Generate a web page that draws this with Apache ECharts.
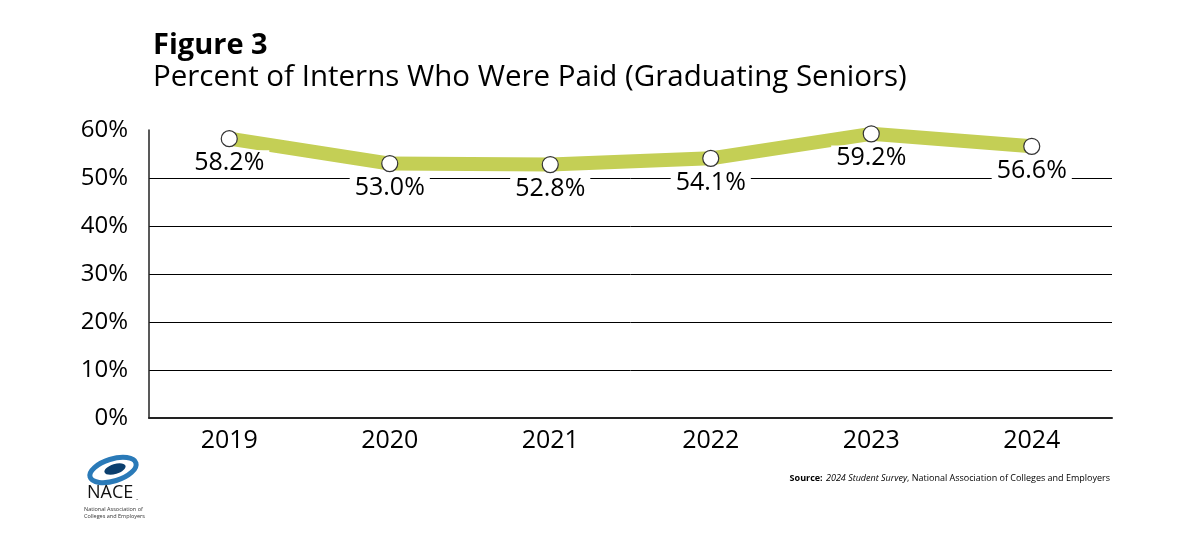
<!DOCTYPE html>
<html><head><meta charset="utf-8">
<script src="https://cdn.jsdelivr.net/npm/echarts@6/dist/echarts.min.js"></script>
<style>html,body{margin:0;padding:0;background:#fff}#c{width:1200px;height:543px}</style>
</head><body><div id="c"></div>
<script>
const years = ['2019','2020','2021','2022','2023','2024'];
const paidPct = [58.2, 53.0, 52.8, 54.1, 59.2, 56.6];
const yTicks = [0, 10, 20, 30, 40, 50, 60];

const font = '"Open Sans", "Noto Sans", sans-serif';
const chart = echarts.init(document.getElementById('c'));
chart.setOption({
  animation: false,
  backgroundColor: '#fff',
  textStyle: { fontFamily: font },
  title: [
    { text: 'Figure 3', left: 148, top: 26, textStyle: { fontFamily: font, fontSize: 29, fontWeight: 'bold', color: '#000' } },
    { text: 'Percent of Interns Who Were Paid (Graduating Seniors)', left: 148, top: 58, textStyle: { fontFamily: font, fontSize: 29.5, fontWeight: 'normal', color: '#000' } }
  ],
  grid: { left: 149, right: 88, top: 130, bottom: 125 },
  xAxis: {
    type: 'category', data: years, boundaryGap: true,
    axisLine: { lineStyle: { color: '#222', width: 2 } },
    axisTick: { show: false },
    axisLabel: { color: '#000', fontSize: 25, margin: 10, fontFamily: font }
  },
  yAxis: {
    type: 'value', min: yTicks[0], max: yTicks[yTicks.length - 1], interval: 10,
    axisLine: { show: true, lineStyle: { color: '#222', width: 1.5 } },
    axisTick: { show: false },
    axisLabel: { color: '#000', fontSize: 24, margin: 21, fontFamily: font, formatter: v => v + '%', verticalAlign: 'middle', padding: [6, 0, 0, 0] },
    splitLine: { show: true, lineStyle: { color: '#000', width: 1 }, showMaxLine: false }
  },
  series: [{
    type: 'line', data: paidPct, z: 5,
    lineStyle: { color: '#c4cf55', width: 14 },
    symbol: 'circle', symbolSize: 16,
    itemStyle: { color: '#fff', borderColor: '#333', borderWidth: 1.2 },
    label: {
      show: true, position: 'bottom', distance: 3, color: '#000', fontSize: 25, fontFamily: font,
      backgroundColor: '#fff', padding: [0, 5],
      formatter: p => p.value.toFixed(1) + '%'
    }
  }],
  graphic: [
    { type: 'text', right: 90, top: 472, style: {
      rich: { b: { fontWeight: 'bold', fontSize: 9, fontFamily: font }, i: { fontStyle: 'italic', fontSize: 9, fontFamily: font }, n: { fontSize: 9, fontFamily: font } },
      text: '{b|Source:} {i|2024 Student Survey}{n|, National Association of Colleges and Employers}', fill: '#000' } },
    { type: 'ellipse', shape: { cx: 113, cy: 470, rx: 24, ry: 11 }, style: { fill: 'none', stroke: '#2a7ab8', lineWidth: 5 }, rotation: 0.3, originX: 113, originY: 470 },
    { type: 'ellipse', shape: { cx: 115, cy: 469, rx: 11, ry: 5 }, style: { fill: '#0b3f6e' }, rotation: 0.3, originX: 115, originY: 469 },
    { type: 'text', left: 87, top: 484, style: { text: 'NACE', fontSize: 18, fontFamily: font, fill: '#111' } },
    { type: 'text', left: 136, top: 494, style: { text: '.', fontSize: 8, fontFamily: font, fill: '#111' } },
    { type: 'text', left: 84, top: 506, style: { text: 'National Association of\nColleges and Employers', fontSize: 5.5, lineHeight: 7, fontFamily: font, fill: '#333' } }
  ]
});
</script></body></html>
